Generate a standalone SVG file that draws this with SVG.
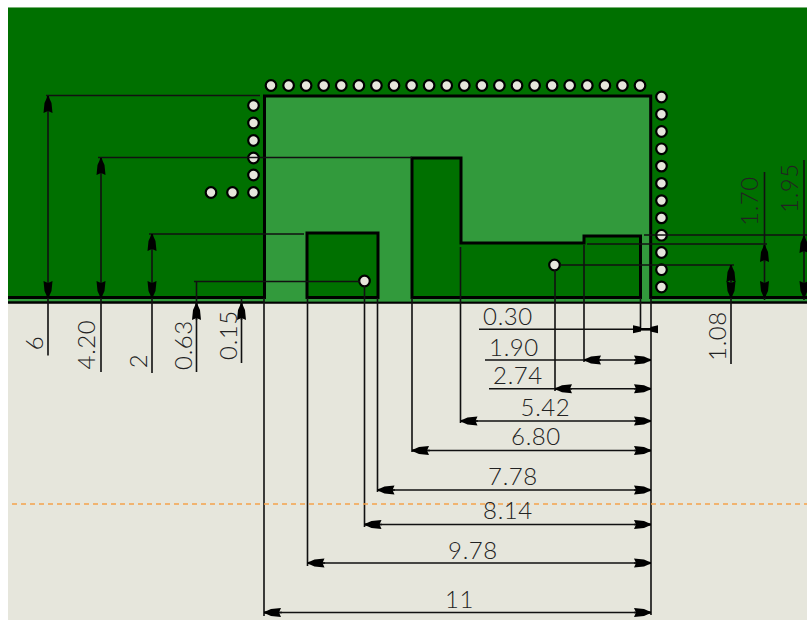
<svg xmlns="http://www.w3.org/2000/svg" width="807" height="620" viewBox="0 0 807 620">
<style>
.o{fill:none;stroke:#000;stroke-width:3;stroke-linejoin:miter}
.d{fill:#007000}
.h{fill:#e6e6dc;stroke:#000;stroke-width:2.2}
.l{fill:none;stroke:#111;stroke-width:1.6}
.a{marker-end:url(#ar)}
.t{font-family:Lato,"Liberation Sans",sans-serif;font-weight:300;font-size:24px;letter-spacing:0.6px;fill:#222;text-anchor:middle}
</style>
<defs>
<marker id="ar" markerUnits="userSpaceOnUse" markerWidth="18" markerHeight="10" refX="17" refY="5" orient="auto-start-reverse">
<polygon points="0,0.500 10,1.500 14,3.300 17,4.300 17,5.700 14,6.700 10,8.500 0,9.500 2,5" fill="#000"/>
</marker>
<circle id="v" r="5.300" class="h"/>
</defs>
<rect width="807" height="620" fill="#fff"/>
<rect x="8" y="7.500" width="799" height="612.500" fill="#e6e6dc"/>
<g id="board">
<rect x="8" y="7.500" width="799" height="294.500" fill="#007000"/>
<rect x="8" y="299" width="799" height="3" fill="#329a3c"/>
<path d="M8 297.500H264.500M650.700 297.500H807" class="o"/>
<line x1="8" y1="302.500" x2="807" y2="302.500" stroke="#000" stroke-width="2.400"/>
</g>
<g id="cutout">
<path d="M264.500 297.500V96H650.700V297.500V301.500H264.500Z" fill="#329a3c"/>
<path d="M264.500 299V96H650.700V299" class="o"/>
</g>
<g id="pad-left">
<rect x="307" y="233" width="71" height="64.500" class="d"/>
<rect x="307" y="233" width="71" height="64.500" class="o"/>
</g>
<g id="pad-right">
<path d="M412 297.500V158H461V243H584V236H640.500V297.500Z" class="d"/>
<path d="M412 297.500V158H461V243H584V236H640.500V297.500Z" class="o"/>
</g>
<g id="vias">
<use href="#v" x="271" y="85.500"/><use href="#v" x="288.600" y="85.500"/><use href="#v" x="306.100" y="85.500"/><use href="#v" x="323.700" y="85.500"/><use href="#v" x="341.300" y="85.500"/><use href="#v" x="358.900" y="85.500"/><use href="#v" x="376.400" y="85.500"/><use href="#v" x="394" y="85.500"/><use href="#v" x="411.600" y="85.500"/><use href="#v" x="429.100" y="85.500"/><use href="#v" x="446.700" y="85.500"/><use href="#v" x="464.300" y="85.500"/><use href="#v" x="481.900" y="85.500"/><use href="#v" x="499.400" y="85.500"/><use href="#v" x="517" y="85.500"/><use href="#v" x="534.600" y="85.500"/><use href="#v" x="552.100" y="85.500"/><use href="#v" x="569.700" y="85.500"/><use href="#v" x="587.300" y="85.500"/><use href="#v" x="604.900" y="85.500"/><use href="#v" x="622.400" y="85.500"/><use href="#v" x="640" y="85.500"/>
<use href="#v" x="661.500" y="97"/><use href="#v" x="661.500" y="114.300"/><use href="#v" x="661.500" y="131.500"/><use href="#v" x="661.500" y="148.800"/><use href="#v" x="661.500" y="166.100"/><use href="#v" x="661.500" y="183.400"/><use href="#v" x="661.500" y="200.600"/><use href="#v" x="661.500" y="217.900"/><use href="#v" x="661.500" y="235.200"/><use href="#v" x="661.500" y="252.500"/><use href="#v" x="661.500" y="269.700"/><use href="#v" x="661.500" y="287"/>
<use href="#v" x="253.500" y="105.500"/><use href="#v" x="253.500" y="123"/><use href="#v" x="253.500" y="140.500"/><use href="#v" x="253.500" y="158"/><use href="#v" x="253.500" y="175"/><use href="#v" x="253.500" y="192.500"/>
<use href="#v" x="232.500" y="192.500"/><use href="#v" x="211" y="192.500"/>
<use href="#v" x="364.500" y="281"/><use href="#v" x="554.500" y="265"/>
</g>
<g id="connectors">
<path class="l" d="M46 95.500H260M48 96V355.500"/><path class="a l" d="M48 110V96"/><path class="a l" d="M48 284V298"/>
<path class="l" d="M98 157.500H412M101 158V372"/><path class="a l" d="M101 172V158"/><path class="a l" d="M101 284V298"/>
<path class="l" d="M149 234H304M152 234V373"/><path class="a l" d="M152 248V234"/><path class="a l" d="M152 284V298"/>
<path class="l" d="M194 281.500H360M196.500 281.500V372"/><path class="a l" d="M196.500 320V303"/>
<path class="l" d="M241.500 298V363"/><path class="a l" d="M241.500 320V303"/>
<path class="l" d="M587 244H767M764.500 172V300"/><path class="a l" d="M764.500 262V245"/><path class="a l" d="M764.500 284V298"/>
<path class="l" d="M644 235H807M804 160V300"/><path class="a l" d="M804 253V236"/><path class="a l" d="M804 284V298"/>
<path class="l" d="M560 265H734M731 265V364"/><path class="a l" d="M731 282V265"/><path class="a l" d="M731 284V298"/>
<path class="l" d="M651 298V615"/>
<path class="l" d="M479 329.300H658M640.500 298V329.300"/><rect x="640" y="328" width="11" height="2.600"/><polygon points="633,325.300 641,327 641,331.600 633,333.300"/><polygon points="658,325.300 650.500,327 650.500,331.600 658,333.300"/>
<path class="l" d="M485 360H651M584 245V362"/><path class="a l" d="M601 360H584"/><path class="a l" d="M634 360H651"/>
<path class="l" d="M489 388.800H651M555 270V391"/><path class="a l" d="M572 388.800H555"/><path class="a l" d="M634 388.800H651"/>
<path class="l" d="M460.500 247V423M460.500 421H651"/><path class="a l" d="M478 421H460.500"/><path class="a l" d="M634 421H651"/>
<path class="l" d="M412 298V452M412 450.500H651"/><path class="a l" d="M430 450.500H412"/><path class="a l" d="M634 450.500H651"/>
<path class="l" d="M377.500 298V492M377.500 490H651"/><path class="a l" d="M395 490H377.500"/><path class="a l" d="M634 490H651"/>
<path class="l" d="M364.500 286V527M364.500 524.500H651"/><path class="a l" d="M382 524.500H364.500"/><path class="a l" d="M634 524.500H651"/>
<path class="l" d="M307.500 298V566M307.500 563H651"/><path class="a l" d="M325 563H307.500"/><path class="a l" d="M634 563H651"/>
<path class="l" d="M264 298V616M264 612.500H651"/><path class="a l" d="M282 612.500H264"/><path class="a l" d="M634 612.500H651"/>
<line x1="12" y1="504" x2="807" y2="504" stroke="#f5a34b" stroke-width="1.400" stroke-dasharray="5 4"/>
</g>
<g id="labels">
<text class="t" x="508" y="325">0.30</text>
<text class="t" x="514" y="356">1.90</text>
<text class="t" x="518" y="384">2.74</text>
<text class="t" x="545.500" y="416">5.42</text>
<text class="t" x="536" y="445">6.80</text>
<text class="t" x="513" y="485">7.78</text>
<text class="t" x="508" y="519">8.14</text>
<text class="t" x="473" y="559">9.78</text>
<text class="t" x="459.500" y="608">11</text>
<text class="t" transform="translate(43 343) rotate(-90)">6</text>
<text class="t" transform="translate(95 344.500) rotate(-90)">4.20</text>
<text class="t" transform="translate(147 361) rotate(-90)">2</text>
<text class="t" transform="translate(192 345) rotate(-90)">0.63</text>
<text class="t" transform="translate(237 335) rotate(-90)">0.15</text>
<text class="t" transform="translate(726 336) rotate(-90)">1.08</text>
<text class="t" transform="translate(758 201) rotate(-90)">1.70</text>
<text class="t" transform="translate(798 188) rotate(-90)">1.95</text>
</g>
</svg>
